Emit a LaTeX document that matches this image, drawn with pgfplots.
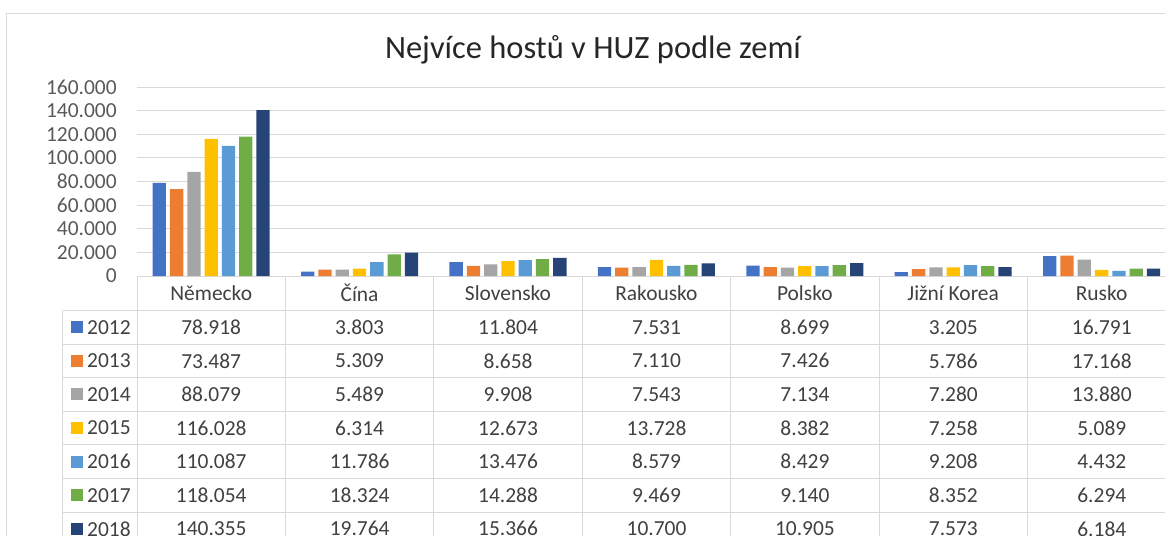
\documentclass[border=0pt]{standalone}
\usepackage{pgfplots}
\usepackage{pgfplotstable}
\pgfplotsset{compat=1.18}
\usepackage{fontspec}
\setmainfont{Carlito}

\definecolor{c2012}{HTML}{4472C4}
\definecolor{c2013}{HTML}{ED7D31}
\definecolor{c2014}{HTML}{A5A5A5}
\definecolor{c2015}{HTML}{FFC000}
\definecolor{c2016}{HTML}{5B9BD5}
\definecolor{c2017}{HTML}{70AD47}
\definecolor{c2018}{HTML}{264478}
\definecolor{gridc}{HTML}{D9D9D9}
\definecolor{tickc}{HTML}{595959}
\definecolor{textc}{HTML}{404040}

% hoste v HUZ, radky = zeme (poradi jako v tabulce), sloupce = roky
\pgfplotstableread{
x y2012 y2013 y2014 y2015 y2016 y2017 y2018
0 78918 73487 88079 116028 110087 118054 140355
1 3803 5309 5489 6314 11786 18324 19764
2 11804 8658 9908 12673 13476 14288 15366
3 7531 7110 7543 13728 8579 9469 10700
4 8699 7426 7134 8382 8429 9140 10905
5 3205 5786 7280 7258 9208 8352 7573
6 16791 17168 13880 5089 4432 6294 6184
}\hostdata

\pgfkeys{/pgf/number format/.cd, fixed, precision=0, 1000 sep={.}, assume math mode=true}
\newcommand{\tabfont}{\fontsize{12.2}{14}\selectfont}

\begin{document}
\begin{tikzpicture}
\begin{axis}[
    name=ax,
    scale only axis, width=20.78cm, height=3.78cm,
    xmin=-0.5, xmax=6.5, ymin=0, ymax=160000,
    ytick={0,20000,40000,60000,80000,100000,120000,140000,160000},
    xtick={0,...,6},
    xticklabels={Německo,Čína,Slovensko,Rakousko,Polsko,Jižní Korea,Rusko},
    scaled y ticks=false,
    ymajorgrids, grid style={gridc, line width=0.02cm},
    axis line style={draw=none}, major tick length=0pt,
    yticklabel style={anchor=east, inner sep=0pt, xshift=-0.4cm, text=tickc, font=\tabfont},
    xticklabel style={anchor=center, inner sep=0pt, yshift=-0.34cm, text=textc, font=\tabfont},
    ybar=0.08cm, bar width=0.266cm,
    clip=false
]
\addplot[fill=c2012, draw=none] table[x=x, y=y2012] {\hostdata};
\addplot[fill=c2013, draw=none] table[x=x, y=y2013] {\hostdata};
\addplot[fill=c2014, draw=none] table[x=x, y=y2014] {\hostdata};
\addplot[fill=c2015, draw=none] table[x=x, y=y2015] {\hostdata};
\addplot[fill=c2016, draw=none] table[x=x, y=y2016] {\hostdata};
\addplot[fill=c2017, draw=none] table[x=x, y=y2017] {\hostdata};
\addplot[fill=c2018, draw=none] table[x=x, y=y2018] {\hostdata};
\end{axis}

% vse ostatni v pixelech obrazku (levy horni roh = 0,0)
\begin{scope}[shift={(ax.south west)}, x=0.02cm, y=0.02cm, shift={(-137,276)}]
% ramecek grafu
\draw[gridc, line width=0.02cm] (7,-545) -- (7,-13) -- (1175,-13);

% nazev
\node[font=\fontsize{18.5}{22}\selectfont, text=black!85] at (593,-50) {Nejvíce hostů v HUZ podle zemí};

% mrizka datove tabulky
\foreach \yy in {310.5,344,377.5,411.5,444.5,478,512}
  \draw[gridc, line width=0.02cm] (63,-\yy) -- (1180,-\yy);
\foreach \k in {0,...,7}
  \draw[gridc, line width=0.02cm] (137+148.43*\k,-276) -- ++(0,-270);
\draw[gridc, line width=0.02cm] (63,-310.5) -- (63,-545);

% legenda v tabulce
\foreach \c/\col [count=\j from 0] in {2012/c2012,2013/c2013,2014/c2014,2015/c2015,2016/c2016,2017/c2017,2018/c2018}{
  \pgfmathsetmacro{\yy}{-(327.2+33.6*\j)}
  \fill[\col] (70.7,\yy-6) rectangle ++(12,12);
  \node[anchor=east, inner sep=0pt, text=textc, font=\tabfont] at (131,\yy) {\c};
}

% hodnoty v tabulce
\foreach \r in {0,...,6}{
  \foreach \c [count=\j from 0] in {2012,...,2018}{
    \pgfplotstablegetelem{\r}{y\c}\of\hostdata
    \let\val\pgfplotsretval
    \pgfmathsetmacro{\xx}{211.2+148.43*\r}
    \pgfmathsetmacro{\yy}{-(327.2+33.6*\j)}
    \node[inner sep=0pt, text=textc, font=\tabfont] at (\xx,\yy) {\pgfmathprintnumber{\val}};
  }
}

% vyrez jako u predlohy
\pgfresetboundingbox
\path[use as bounding box] (0,0) rectangle (1165,-535);
\end{scope}
\end{tikzpicture}
\end{document}
